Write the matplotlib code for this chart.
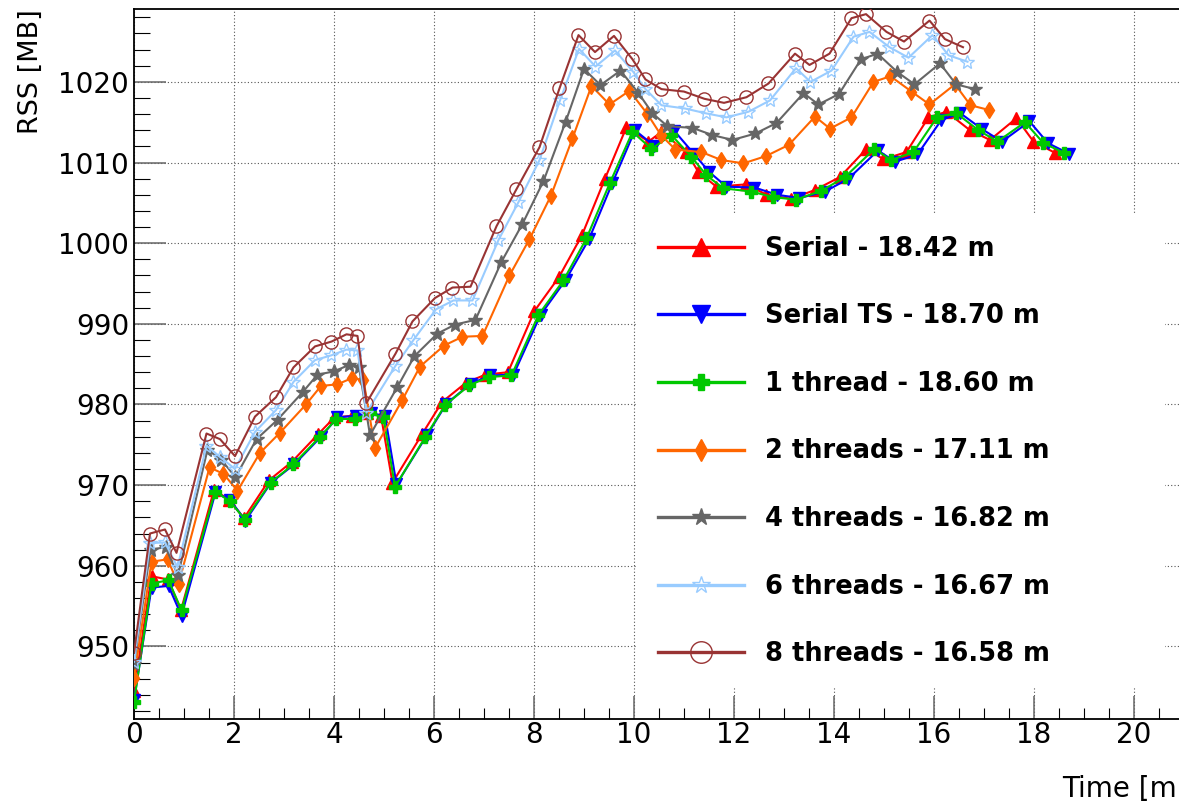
import matplotlib
matplotlib.use("Agg")
import matplotlib.pyplot as plt
from matplotlib.ticker import MultipleLocator

# ---------------- data ----------------
labels = ["Serial - 18.42 m", "Serial TS - 18.70 m", "1 thread - 18.60 m",
          "2 threads - 17.11 m", "4 threads - 16.82 m", "6 threads - 16.67 m",
          "8 threads - 16.58 m"]

serial_t = [0, 0.35, 0.68, 0.94, 1.60, 1.90, 2.20, 2.70, 3.16, 3.68, 4.01, 4.37, 4.67, 4.94,
            5.17, 5.77, 6.16, 6.64, 7.03, 7.48, 8.01, 8.50, 8.96, 9.42, 9.85, 10.29, 10.55,
            11.05, 11.29, 11.65, 12.25, 12.65, 13.15, 13.62, 14.12, 14.65, 14.99, 15.45,
            15.89, 16.25, 16.72, 17.12, 17.65, 17.99, 18.42]
serial_rss = [944.5, 958.7, 958.3, 954.5, 969.4, 968.2, 965.9, 970.6, 972.9, 976.3, 978.4,
              978.6, 979.0, 978.6, 970.3, 976.4, 980.3, 982.7, 983.7, 984.0, 991.6, 995.8,
              1001.0, 1008.0, 1014.4, 1012.6, 1013.8, 1011.3, 1008.8, 1007.0, 1007.3, 1006.0,
              1005.5, 1006.6, 1008.2, 1011.7, 1010.4, 1011.3, 1015.6, 1016.3, 1014.0, 1012.8,
              1015.5, 1012.6, 1011.2]

serialts_t = [0, 0.35, 0.69, 0.95, 1.63, 1.93, 2.23, 2.74, 3.21, 3.74, 4.07, 4.44, 4.74, 5.02,
              5.25, 5.86, 6.25, 6.74, 7.13, 7.59, 8.13, 8.63, 9.10, 9.57, 10.02, 10.40, 10.81,
              11.21, 11.51, 11.85, 12.41, 12.86, 13.31, 13.82, 14.29, 14.88, 15.22, 15.67,
              16.15, 16.53, 16.97, 17.36, 17.91, 18.28, 18.70]
serialts_rss = [943.3, 957.3, 957.5, 953.8, 969.1, 968.1, 965.6, 970.3, 972.6, 976.0, 978.4,
                978.6, 978.9, 978.6, 970.1, 976.2, 980.1, 982.6, 983.6, 983.7, 991.1, 995.4,
                1000.5, 1007.5, 1014.0, 1012.1, 1013.9, 1011.0, 1008.8, 1007.0, 1006.9,
                1006.0, 1005.6, 1006.4, 1008.0, 1011.5, 1010.1, 1011.0, 1015.3, 1016.1,
                1014.1, 1012.6, 1015.1, 1012.4, 1011.1]

t1_t = [0, 0.35, 0.69, 0.95, 1.62, 1.92, 2.22, 2.73, 3.19, 3.72, 4.05, 4.42, 4.72, 4.99,
        5.22, 5.83, 6.22, 6.71, 7.10, 7.55, 8.09, 8.59, 9.05, 9.52, 9.97, 10.35, 10.75,
        11.15, 11.45, 11.79, 12.35, 12.79, 13.24, 13.75, 14.22, 14.81, 15.14, 15.59,
        16.07, 16.45, 16.89, 17.27, 17.82, 18.19, 18.60]
t1_rss = [943.1, 957.8, 958.2, 954.5, 969.2, 968.0, 965.7, 970.3, 972.6, 976.0, 978.2,
          978.2, 978.9, 978.4, 969.8, 976.0, 979.9, 982.4, 983.4, 983.6, 991.1, 995.4,
          1000.6, 1007.5, 1013.8, 1011.7, 1013.4, 1010.7, 1008.4, 1006.8, 1006.4, 1005.7,
          1005.4, 1006.5, 1008.2, 1011.7, 1010.3, 1011.3, 1015.7, 1016.1, 1014.0, 1012.6,
          1015.0, 1012.4, 1011.2]

t2_t = [0, 0.35, 0.67, 0.89, 1.51, 1.79, 2.07, 2.52, 2.92, 3.44, 3.74, 4.07, 4.37, 4.59,
        4.82, 5.37, 5.72, 6.20, 6.57, 6.97, 7.51, 7.91, 8.34, 8.77, 9.15, 9.51, 9.91,
        10.27, 10.54, 10.83, 11.35, 11.75, 12.19, 12.64, 13.10, 13.62, 13.92, 14.35,
        14.79, 15.13, 15.55, 15.91, 16.42, 16.73, 17.11]
t2_rss = [946.1, 960.5, 960.8, 957.7, 972.2, 971.4, 969.3, 974.0, 976.5, 980.0, 982.3,
          982.5, 983.3, 983.0, 974.6, 980.6, 984.7, 987.3, 988.4, 988.5, 996.0, 1000.5,
          1005.9, 1013.0, 1019.5, 1017.2, 1018.9, 1016.0, 1013.4, 1011.6, 1011.3, 1010.3,
          1009.9, 1010.8, 1012.2, 1015.7, 1014.2, 1015.6, 1020.0, 1020.7, 1018.8, 1017.2,
          1019.7, 1017.1, 1016.5]

t4_t = [0, 0.33, 0.63, 0.88, 1.47, 1.75, 2.03, 2.45, 2.87, 3.37, 3.67, 4.00, 4.30, 4.50,
        4.72, 5.27, 5.61, 6.07, 6.42, 6.83, 7.35, 7.77, 8.19, 8.63, 9.00, 9.33, 9.73,
        10.09, 10.37, 10.67, 11.17, 11.57, 11.97, 12.43, 12.85, 13.39, 13.69, 14.10,
        14.54, 14.87, 15.27, 15.61, 16.12, 16.44, 16.82]
t4_rss = [947.8, 962.0, 962.3, 958.8, 974.4, 973.1, 971.0, 975.7, 978.1, 981.5, 983.7,
          984.1, 984.9, 984.6, 976.2, 982.2, 986.0, 988.8, 989.9, 990.5, 997.7, 1002.4,
          1007.7, 1015.0, 1021.6, 1019.6, 1021.4, 1018.6, 1016.1, 1014.5, 1014.3, 1013.4,
          1012.8, 1013.6, 1014.9, 1018.6, 1017.2, 1018.5, 1022.8, 1023.5, 1021.2, 1019.7,
          1022.3, 1019.7, 1019.1]

t6_t = [0, 0.32, 0.62, 0.87, 1.45, 1.72, 2.02, 2.42, 2.84, 3.19, 3.62, 3.95, 4.25, 4.47,
        4.65, 5.23, 5.59, 6.04, 6.39, 6.77, 7.29, 7.69, 8.11, 8.52, 8.90, 9.23, 9.62,
        9.99, 10.23, 10.55, 11.02, 11.44, 11.85, 12.29, 12.72, 13.24, 13.53, 13.95,
        14.39, 14.71, 15.11, 15.49, 15.97, 16.29, 16.67]
t6_rss = [948.1, 962.8, 962.9, 959.8, 974.9, 973.5, 972.0, 976.6, 979.3, 982.8, 985.5,
          986.1, 986.8, 986.7, 979.0, 984.8, 988.0, 991.8, 992.9, 992.9, 1000.4, 1005.1,
          1010.3, 1017.7, 1024.1, 1021.9, 1023.9, 1021.2, 1019.1, 1017.1, 1016.7, 1016.1,
          1015.6, 1016.3, 1017.7, 1021.7, 1020.0, 1021.4, 1025.6, 1026.2, 1024.3, 1023.0,
          1025.8, 1023.3, 1022.5]

t8_t = [0, 0.32, 0.62, 0.85, 1.45, 1.72, 2.02, 2.42, 2.84, 3.19, 3.62, 3.95, 4.25, 4.47,
        4.65, 5.23, 5.57, 6.02, 6.37, 6.73, 7.25, 7.65, 8.11, 8.51, 8.89, 9.22, 9.60,
        9.97, 10.23, 10.55, 11.00, 11.41, 11.80, 12.25, 12.69, 13.22, 13.51, 13.91,
        14.35, 14.64, 15.05, 15.40, 15.91, 16.22, 16.58]
t8_rss = [949.2, 964.0, 964.5, 961.6, 976.4, 975.7, 973.6, 978.5, 980.9, 984.6, 987.2,
          987.8, 988.7, 988.5, 980.2, 986.3, 990.3, 993.2, 994.5, 994.6, 1002.1, 1006.7,
          1011.9, 1019.2, 1025.8, 1023.7, 1025.7, 1022.8, 1020.3, 1019.1, 1018.8, 1017.9,
          1017.4, 1018.1, 1019.8, 1023.5, 1022.1, 1023.5, 1027.9, 1028.4, 1026.2, 1025.0,
          1027.6, 1025.3, 1024.3]

# ---------------- styles ----------------
styles = [
    dict(color="#ff0000", marker="^", ms=8.5, mfc="#ff0000", lms=12.5),
    dict(color="#0000ff", marker="v", ms=8.5, mfc="#0000ff", lms=12.5),
    dict(color="#00c800", marker="P", ms=9.0, mfc="#00c800", lms=12.0),
    dict(color="#ff6600", marker="d", ms=8.0, mfc="#ff6600", lms=11.0),
    dict(color="#666666", marker="*", ms=10.0, mfc="#666666", lms=13.0),
    dict(color="#99ccff", marker="*", ms=10.0, mfc="none", lms=13.0),
    dict(color="#993333", marker="o", ms=9.5, mfc="none", lms=15.5),
]
xs = [serial_t, serialts_t, t1_t, t2_t, t4_t, t6_t, t8_t]
ys = [serial_rss, serialts_rss, t1_rss, t2_rss, t4_rss, t6_rss, t8_rss]

W, H = 1179, 801
fig = plt.figure(figsize=(W / 100, H / 100), dpi=100)
ax = fig.add_axes([134 / W, (H - 719) / H, 1050 / W, (719 - 9.3) / H])

for x, y, lab, st in zip(xs, ys, labels, styles):
    ax.plot(x, y, color=st["color"], lw=1.5, marker=st["marker"], ms=st["ms"],
            mfc=st["mfc"], mec=st["color"], mew=1.0, label=lab, zorder=3)

ax.set_xlim(0, 21)
ax.set_ylim(941.0, 1029.0)

ax.xaxis.set_major_locator(MultipleLocator(2))
ax.xaxis.set_minor_locator(MultipleLocator(0.5))
ax.yaxis.set_major_locator(MultipleLocator(10))
ax.yaxis.set_minor_locator(MultipleLocator(2))

ax.tick_params(axis="both", which="both", direction="in", top=False, right=False)
ax.tick_params(axis="y", which="major", length=23, width=1.1, color="#666666", pad=3.5,
               labelsize=20)
ax.tick_params(axis="y", which="minor", length=11.5, width=0.8, color="black")
ax.tick_params(axis="x", which="major", length=16.5, width=1.1, color="#666666", pad=1.5,
               labelsize=20)
ax.tick_params(axis="x", which="minor", length=8, width=0.8, color="black")
for lab in ax.get_xticklabels() + ax.get_yticklabels():
    lab.set_family("DejaVu Sans")

ax.grid(True, which="major", color="#555555", linestyle=(0, (1, 2)), linewidth=0.8, zorder=0)
ax.set_axisbelow(True)

for s in ax.spines.values():
    s.set_linewidth(1.3)
    s.set_color("black")

ylab = ax.set_ylabel("RSS [MB]", fontsize=19.5, family="DejaVu Sans", rotation=90)
ylab.set_rotation_mode("default")
ylab.set_va("top")
ylab.set_ha("center")
ax.yaxis.set_label_coords((31 - 134) / 1050, 1.0)
ax.set_xlabel("Time [m]", fontsize=20, family="DejaVu Sans", ha="right", va="center")
ax.xaxis.set_label_coords((1188 - 134) / 1050, (719 - 789) / 709.7)

leg = ax.legend(loc="center left", bbox_to_anchor=(637 / W, 1 - 451.5 / H, (1165 - 637) / W, 0),
                bbox_transform=fig.transFigure, mode="expand", borderaxespad=0, borderpad=0.8,
                frameon=True, fancybox=False, edgecolor="none", facecolor="white",
                framealpha=1, prop={"family": "DejaVu Sans", "weight": "bold", "size": 18.5},
                handlelength=3.35, handletextpad=0.85, labelspacing=1.62)
leg.set_zorder(5)
for ln, st in zip(leg.legend_handles, styles):
    ln.set_linewidth(2.4)
    ln.set_markersize(st["lms"])

fig.savefig("out.png", dpi=100)
